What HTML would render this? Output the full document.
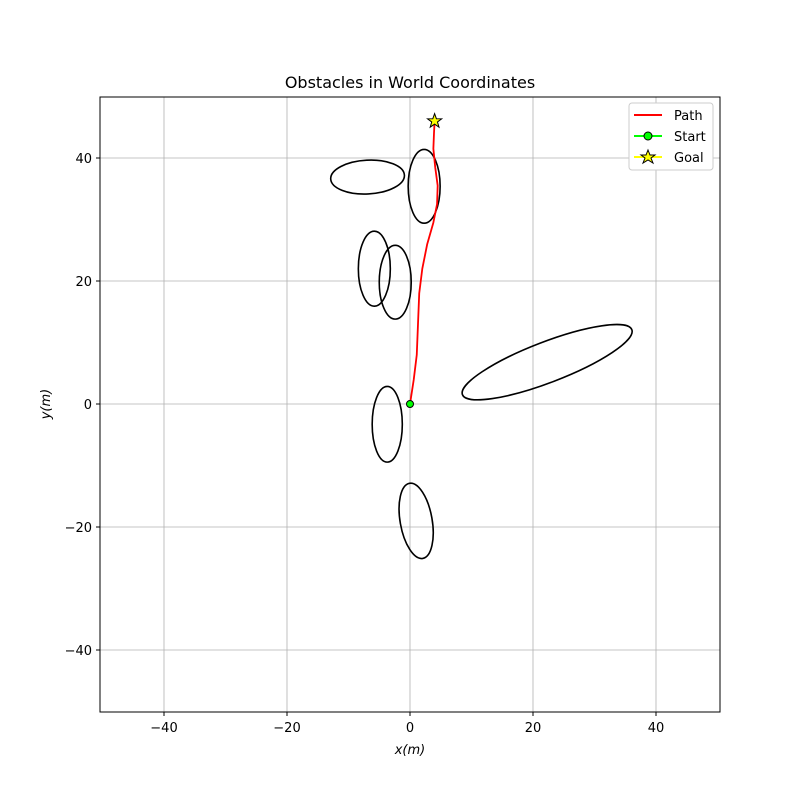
<!DOCTYPE html>
<html><head><meta charset="utf-8"><style>
body{margin:0;background:#fff;font-family:"Liberation Sans","DejaVu Sans",sans-serif}
svg text{font-family:"DejaVu Sans","Liberation Sans",sans-serif}
</style></head><body>
<svg id="chart" width="800" height="800">
<rect width="800" height="800" fill="#fff"/>
<g id="grid"></g>
<g id="marks"></g>
<rect x="100" y="97" width="620" height="615" fill="none" stroke="#000" stroke-width="1"/>
<g id="ticks"></g>
<text x="410" y="88" text-anchor="middle" font-size="16">Obstacles in World Coordinates</text>
<text x="410" y="754" text-anchor="middle" font-size="13" font-style="italic">x(m)</text>
<text x="50" y="404" text-anchor="middle" font-size="13" font-style="italic" transform="rotate(-90 50 404)">y(m)</text>
<g>
<rect x="629" y="103" width="84" height="67" fill="#fff" stroke="#ccc" rx="3"/>
<line x1="634" y1="115" x2="662" y2="115" stroke="red" stroke-width="2"/>
<text x="674" y="120" font-size="13">Path</text>
<line x1="634" y1="136" x2="662" y2="136" stroke="#0f0" stroke-width="2"/>
<circle cx="648" cy="136" r="4" fill="#0f0" stroke="#000"/>
<text x="674" y="141" font-size="13">Start</text>
<line x1="634" y1="157" x2="662" y2="157" stroke="yellow" stroke-width="2"/>
<polygon points="648,150 650,155 655,155 651,158 653,163 648,160 643,163 645,158 641,155 646,155" fill="yellow" stroke="#000"/>
<text x="674" y="162" font-size="13">Goal</text>
</g>
</svg>
<script>
const xTicks=[-40,-20,0,20,40];
const yTicks=[-40,-20,0,20,40];
const ellCx=[-6.9,2.3,-5.8,-2.4,22.3,-3.7,1.0];
const ellCy=[36.9,35.4,22.0,19.8,6.8,-3.3,-19.0];
const ellW=[12.0,5.2,5.2,5.2,29.5,4.9,5.2];
const ellH=[5.5,12.0,12.2,12.0,6.6,12.3,12.4];
const ellAng=[3,0,0,0,21,0,10];
const pathX=[0,0.6,1.1,1.3,1.5,2.0,2.8,3.8,4.4,4.5,4.1,3.8,3.9,4.0];
const pathY=[0,3.9,8.0,13.0,18.0,22.0,26.0,29.5,32.5,35.5,38.5,41.5,44.0,46.0];
const startPt=[0,0];
const goalPt=[4,46];
const X=v=>410+v*6.15, Y=v=>404-v*6.15;
const NS="http://www.w3.org/2000/svg";
function mk(t,a,p){const e=document.createElementNS(NS,t);for(const k in a)e.setAttribute(k,a[k]);p.appendChild(e);return e;}
const grid=document.getElementById('grid'),ticks=document.getElementById('ticks'),marks=document.getElementById('marks');
xTicks.forEach(v=>{
 const g=mk('line',{x1:X(v),x2:X(v),y1:97,y2:712,stroke:'#b0b0b0','stroke-width':0.8},grid);
 
 
 mk('line',{x1:X(v),x2:X(v),y1:712,y2:716,stroke:'#000'},ticks);
 const t=mk('text',{x:X(v),y:732,'text-anchor':'middle','font-size':13},ticks);
 t.textContent=(v<0?'\u2212'+(-v):v);
 
 
});
yTicks.forEach(v=>{
 const g=mk('line',{x1:100,x2:720,y1:Y(v),y2:Y(v),stroke:'#b0b0b0','stroke-width':0.8},grid);
 
 
 mk('line',{x1:96,x2:100,y1:Y(v),y2:Y(v),stroke:'#000'},ticks);
 const t=mk('text',{x:92,y:Y(v)+5,'text-anchor':'end','font-size':13},ticks);
 t.textContent=(v<0?'\u2212'+(-v):v);
 
 
});
ellCx.forEach((cx,i)=>{
 const e=mk('ellipse',{cx:X(cx),cy:Y(ellCy[i]),rx:ellW[i]/2*6.15,ry:ellH[i]/2*6.15,fill:'none',stroke:'#000','stroke-width':1.6,transform:`rotate(${-ellAng[i]} ${X(cx)} ${Y(ellCy[i])})`},marks);
 
 
});
const p=mk('polyline',{points:pathX.map((x,i)=>X(x)+','+Y(pathY[i])).join(' '),fill:'none',stroke:'red','stroke-width':1.8,'stroke-linejoin':'round'},marks);


const s=mk('circle',{cx:X(startPt[0]),cy:Y(startPt[1]),r:3.5,fill:'#0f0',stroke:'#000'},marks);


const gx=X(goalPt[0]),gy=Y(goalPt[1]);
const pts=[];for(let k=0;k<10;k++){const r=k%2?3:7.5,a=-Math.PI/2+k*Math.PI/5;pts.push((gx+r*Math.cos(a)).toFixed(1)+','+(gy+r*Math.sin(a)).toFixed(1));}
const g=mk('polygon',{points:pts.join(' '),fill:'yellow',stroke:'#000'},marks);


</script>
</body></html>
